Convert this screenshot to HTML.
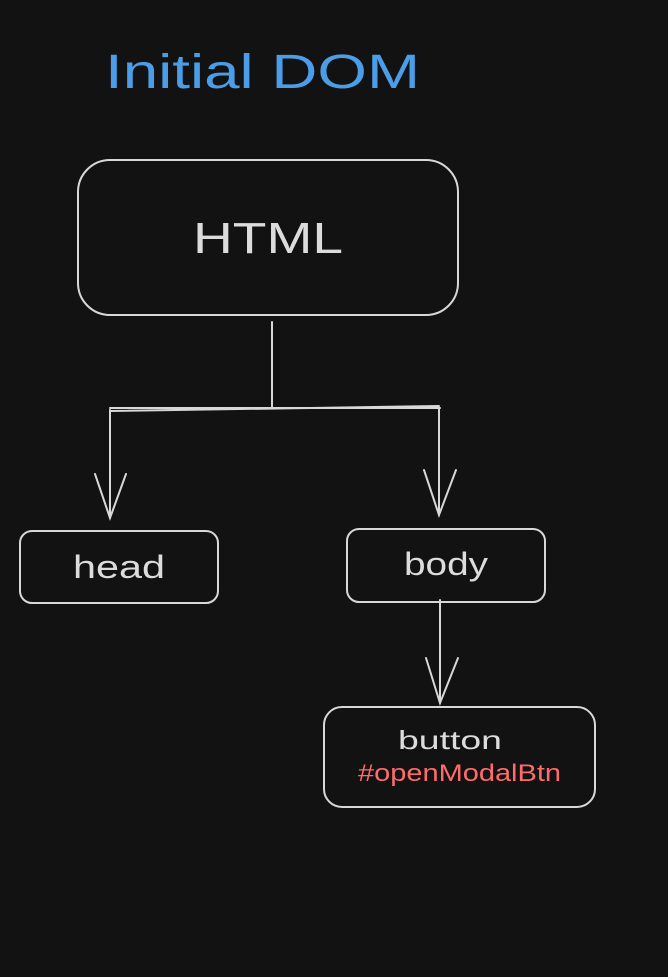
<!DOCTYPE html>
<html><head><meta charset="utf-8"><style>
html,body{margin:0;padding:0;background:#121212;}
svg{display:block}
text{font-family:"Liberation Sans",sans-serif;}
</style></head><body>
<svg width="668" height="977" viewBox="0 0 668 977" xmlns="http://www.w3.org/2000/svg">
<rect width="668" height="977" fill="#121212"/>
<text x="105" y="88" font-size="48" fill="#4a9de6" textLength="315" lengthAdjust="spacingAndGlyphs">Initial DOM</text>
<g fill="none" stroke="#d8d8d8" stroke-width="2" stroke-linecap="round">
<rect x="78" y="160" width="380" height="155" rx="32"/>
<line x1="272" y1="322" x2="272" y2="408"/>
<path d="M110 408 L440 408"/>
<path d="M111 411 L439 406"/>
<line x1="110" y1="410" x2="110" y2="518"/>
<path d="M95 474 L110 518 L126 474"/>
<line x1="439" y1="408" x2="439" y2="515"/>
<path d="M424 470 L439 515 L456 470"/>
<rect x="20" y="531" width="198" height="72" rx="12"/>
<rect x="347" y="529" width="198" height="73" rx="12"/>
<line x1="440" y1="600" x2="440" y2="703"/>
<path d="M426 658 L440 703 L458 658"/>
<rect x="324" y="707" width="271" height="100" rx="18"/>
</g>
<text x="193" y="253" font-size="44" fill="#dcdcdc" textLength="150" lengthAdjust="spacingAndGlyphs">HTML</text>
<text x="73" y="578" font-size="32" fill="#dcdcdc" textLength="92" lengthAdjust="spacingAndGlyphs">head</text>
<text x="404" y="575" font-size="32" fill="#dcdcdc" textLength="84" lengthAdjust="spacingAndGlyphs">body</text>
<text x="398" y="749" font-size="26" fill="#dcdcdc" textLength="104" lengthAdjust="spacingAndGlyphs">button</text>
<text x="358" y="781" font-size="24" fill="#ff6b6b" textLength="203" lengthAdjust="spacingAndGlyphs">#openModalBtn</text>
</svg>
</body></html>
